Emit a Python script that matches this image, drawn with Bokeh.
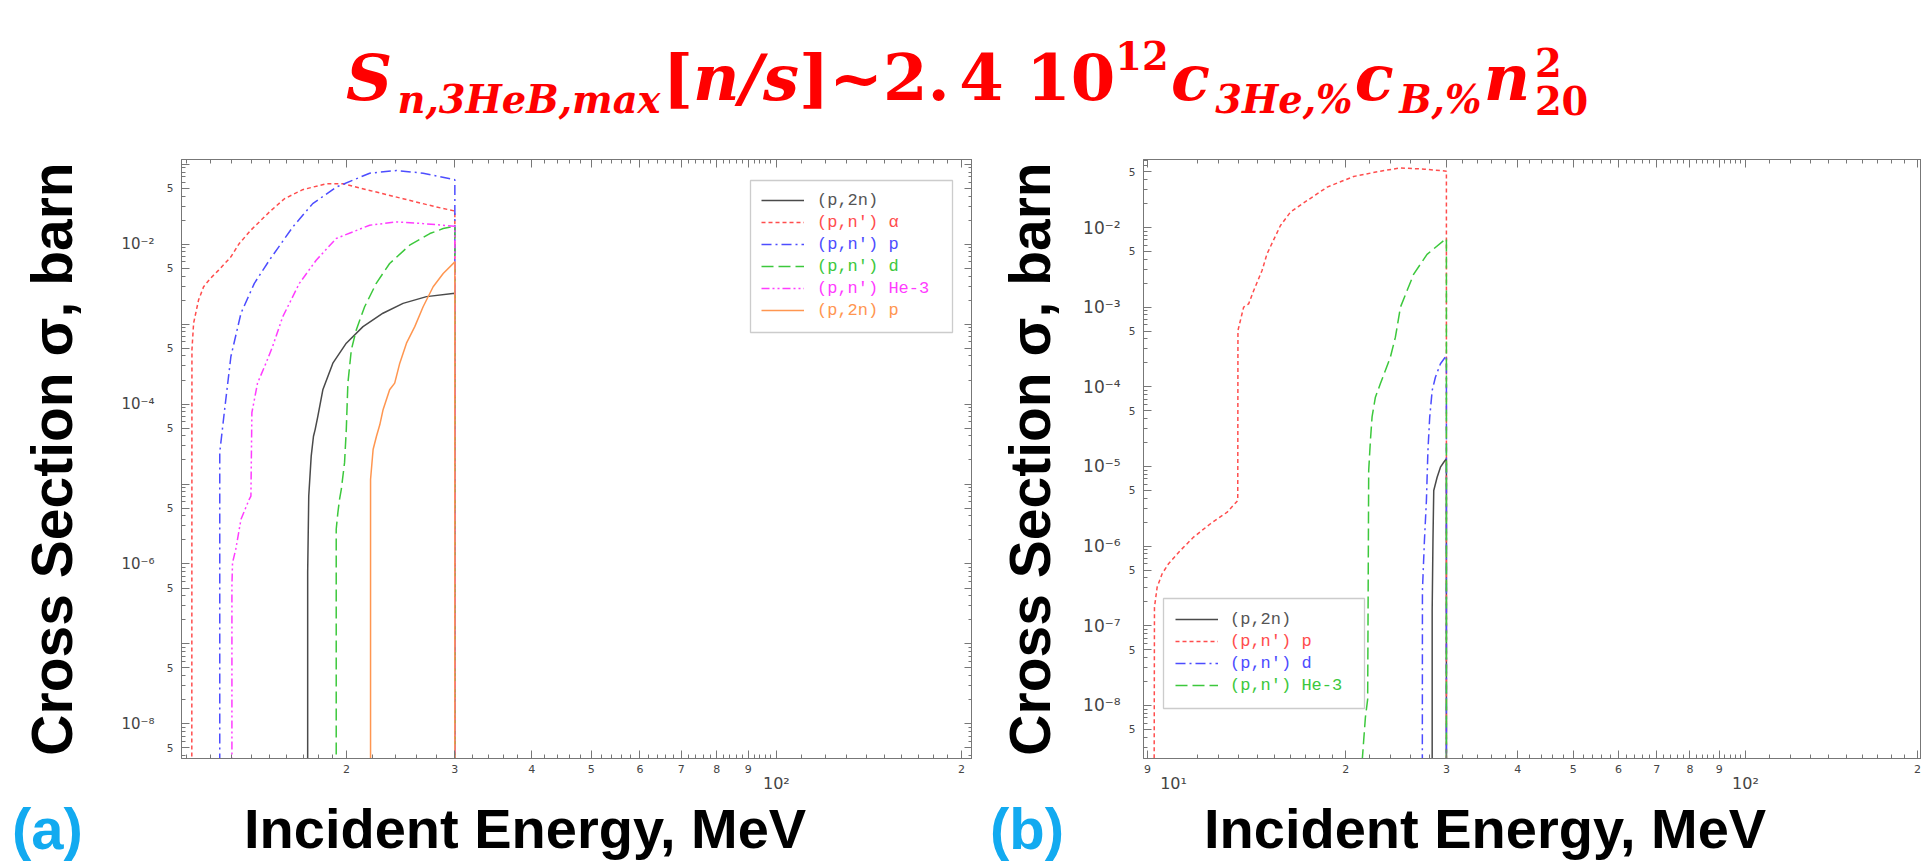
from bokeh.plotting import figure
from bokeh.models import (Range1d, LogAxis, FixedTicker, Legend, LegendItem,
                          BoxAnnotation, Div)
from bokeh.layouts import column, row
from bokeh.embed import file_html
from bokeh.resources import INLINE

ZERO = 1e-12  # cross-section below threshold / above cut-off (falls off the bottom of the axis)

# ---------------- panel (a) ----------------
a_p2n_E = [17.29, 17.29, 17.36, 17.52, 17.67, 17.78, 17.96, 18.30, 19.00, 19.98, 21.27, 22.92, 24.71, 26.98, 30.0, 30.0]
a_p2n_S = [ZERO, 7.84e-7, 7.07e-6, 2.23e-5, 3.96e-5, 4.80e-5, 7.03e-5, 1.51e-4, 3.25e-4, 5.78e-4, 9.31e-4, 1.37e-3, 1.82e-3, 2.21e-3, 2.43e-3, ZERO]

a_alpha_E = [11.20, 11.21, 11.28, 11.49, 11.71, 12.01, 12.39, 12.97, 13.38, 13.98, 14.98, 15.85, 16.97, 18.53, 19.72, 21.81, 24.71, 28.01, 30.0, 30.0]
a_alpha_S = [ZERO, 4.77e-4, 1.03e-3, 2.00e-3, 2.94e-3, 3.73e-3, 4.74e-3, 6.95e-3, 1.02e-2, 1.50e-2, 2.53e-2, 3.71e-2, 4.81e-2, 5.71e-2, 5.71e-2, 4.71e-2, 3.71e-2, 2.92e-2, 2.60e-2, ZERO]

a_p_E = [12.44, 12.44, 12.57, 12.65, 12.97, 13.47, 14.16, 14.98, 16.35, 17.62, 19.24, 21.81, 24.11, 26.64, 30.0, 30.0]
a_p_S = [ZERO, 2.5e-5, 5.0e-5, 7.74e-5, 3.94e-4, 1.37e-3, 3.24e-3, 6.31e-3, 1.64e-2, 3.22e-2, 5.18e-2, 7.74e-2, 8.37e-2, 7.74e-2, 6.41e-2, ZERO]

a_d_E = [19.24, 19.24, 19.36, 19.48, 19.61, 19.85, 19.98, 20.10, 20.36, 20.74, 21.40, 22.35, 23.50, 25.33, 27.32, 28.72, 30.0, 30.0]
a_d_S = [ZERO, 2.72e-6, 4.39e-6, 6.43e-6, 8.57e-6, 1.85e-5, 4.80e-5, 1.83e-4, 4.77e-4, 8.47e-4, 1.65e-3, 3.24e-3, 5.74e-3, 9.72e-3, 1.36e-2, 1.57e-2, 1.68e-2, ZERO]

a_he3_E = [13.02, 13.02, 13.05, 13.21, 13.47, 13.89, 13.98, 14.03, 14.33, 14.79, 15.16, 15.75, 16.76, 17.85, 19.24, 21.81, 24.11, 26.64, 30.0, 30.0]
a_he3_S = [ZERO, 5.33e-7, 1.04e-6, 1.53e-6, 3.62e-6, 6.43e-6, 7.07e-6, 7.8e-5, 1.83e-4, 3.25e-4, 5.24e-4, 1.24e-3, 3.24e-3, 6.31e-3, 1.18e-2, 1.73e-2, 1.90e-2, 1.81e-2, 1.68e-2, ZERO]

a_p2np_E = [21.88, 21.88, 22.09, 22.37, 22.65, 22.93, 23.50, 23.95, 24.41, 25.03, 25.82, 26.64, 27.66, 28.72, 30.0, 30.0]
a_p2np_S = [ZERO, 1.14e-5, 2.70e-5, 3.96e-5, 5.5e-5, 8.51e-5, 1.51e-4, 1.83e-4, 3.25e-4, 5.78e-4, 9.31e-4, 1.65e-3, 2.94e-3, 4.31e-3, 6.01e-3, ZERO]

a_labels = ["(p,2n)", "(p,n') \u03b1", "(p,n') p", "(p,n') d", "(p,n') He-3", "(p,2n) p"]

# ---------------- panel (b) ----------------
b_p2n_E = [28.33, 28.33, 28.42, 28.51, 28.90, 29.29, 29.68, 30.0, 30.0]
b_p2n_S = [ZERO, 1.56e-7, 1.18e-6, 5.00e-6, 7.34e-6, 9.80e-6, 1.13e-5, 1.25e-5, ZERO]

b_p_E = [9.23, 9.26, 9.36, 9.55, 9.80, 10.28, 10.84, 11.60, 12.41, 12.95, 12.96, 13.26, 13.53, 13.81, 14.28, 14.57, 15.38, 16.01, 17.12, 18.56, 20.65, 23.00, 24.90, 27.50, 30.0, 30.0]
b_p_S = [ZERO, 1.71e-7, 3.05e-7, 4.50e-7, 6.01e-7, 8.83e-7, 1.30e-6, 1.91e-6, 2.67e-6, 3.74e-6, 5.09e-4, 1.00e-3, 1.10e-3, 1.62e-3, 2.88e-3, 4.68e-3, 1.06e-2, 1.56e-2, 2.18e-2, 3.21e-2, 4.37e-2, 5.10e-2, 5.60e-2, 5.40e-2, 5.10e-2, ZERO]

b_d_E = [27.21, 27.24, 27.46, 27.68, 27.85, 28.05, 28.33, 28.70, 29.29, 30.0, 30.0]
b_d_S = [ZERO, 2.78e-7, 1.18e-6, 3.74e-6, 1.59e-5, 4.16e-5, 9.00e-5, 1.32e-4, 1.95e-4, 2.47e-4, ZERO]

b_he3_E = [21.37, 21.65, 21.85, 21.94, 22.09, 22.24, 22.54, 23.00, 23.94, 24.43, 24.93, 26.30, 27.75, 30.0, 30.0]
b_he3_S = [2.0e-9, 7.1e-9, 1.2e-8, 8.9e-6, 2.1e-5, 4.2e-5, 7.4e-5, 1.1e-4, 2.35e-4, 4.2e-4, 1.0e-3, 2.6e-3, 4.6e-3, 7.3e-3, ZERO]

b_labels = ["(p,2n)", "(p,n') p", "(p,n') d", "(p,n') He-3"]

# ---------------- axis tick labels ----------------
y_decades = [1e-9, 1e-8, 1e-7, 1e-6, 1e-5, 1e-4, 1e-3, 1e-2, 1e-1]
y_fives = [5e-9, 5e-8, 5e-7, 5e-6, 5e-5, 5e-4, 5e-3, 5e-2]
y_minor_mult = [2, 3, 4, 6, 7, 8, 9]
a_y_decade_text = {1e-2: "10\u207b\u00b2", 1e-4: "10\u207b\u2074", 1e-6: "10\u207b\u2076", 1e-8: "10\u207b\u2078"}
b_y_decade_text = {1e-2: "10\u207b\u00b2", 1e-3: "10\u207b\u00b3", 1e-4: "10\u207b\u2074", 1e-5: "10\u207b\u2075",
                   1e-6: "10\u207b\u2076", 1e-7: "10\u207b\u2077", 1e-8: "10\u207b\u2078"}
x_digit_ticks = [9, 20, 30, 40, 50, 60, 70, 80, 90, 100, 200]
x_digit_text = ["9", "2", "3", "4", "5", "6", "7", "8", "9", "", "2"]
x_decade_ticks = [10, 100]
x_decade_text = ["10\u00b9", "10\u00b2"]

y_title = "Cross Section \u03c3, barn"
x_title = "Incident Energy, MeV"
panel_tags = ["(a)", "(b)"]

SUB = 'font-size:0.6em;position:relative;top:0.32em;margin-left:0.14em;margin-right:0.06em'
title_html = (
    '<div style="position:relative;width:1921px;height:130px;">'
    '<div style="position:absolute;left:346px;top:30px;white-space:nowrap;color:#ff0000;'
    "font-family:'DejaVu Serif',serif;font-weight:bold;font-style:italic;font-size:64px;line-height:78px;\">"
    'S<span style="' + SUB + '">n,3HeB,max</span>'
    '<span style="font-style:normal">[</span>n/s<span style="font-style:normal">]~2.'
    '<span style="margin-left:0.15em">4</span> 10</span>'
    '<span style="font-size:0.6em;position:relative;top:-0.8em;font-style:normal;margin-right:0.06em">12</span>'
    'c<span style="' + SUB + '">3He,%</span>'
    'c<span style="' + SUB + '">B,%</span>'
    'n<span style="display:inline-block;font-size:0.6em;line-height:1.0em;position:relative;'
    'top:0.38em;font-style:normal;margin-left:0.12em">2<br>20</span>'
    '</div></div>'
)

BLUE_LBL = "#12aaf0"
BIG = "font-family:'Liberation Sans',Arial,sans-serif;font-weight:bold;line-height:58px;position:absolute;top:0px;white-space:nowrap;"
bottom_html = (
    '<div style="position:relative;width:1921px;height:64px;">'
    '<span style="' + BIG + 'left:12px;font-size:58px;color:' + BLUE_LBL + '">' + panel_tags[0] + '</span>'
    '<span style="' + BIG + 'left:244px;font-size:56px;color:black">' + x_title + '</span>'
    '<span style="' + BIG + 'left:990px;font-size:58px;color:' + BLUE_LBL + '">' + panel_tags[1] + '</span>'
    '<span style="' + BIG + 'left:1204px;font-size:56px;color:black">' + x_title + '</span>'
    '</div>'
)

AX = "#777777"
TL = "#444444"
COLORS = {"k": "#4a4a4a", "r": "#ff4d4d", "b": "#4d4dff", "g": "#3cc83c", "m": "#ff3cff", "o": "#ff9650"}
DASH = {"solid": "solid", "dash": "4 3", "dashdot": "10 4 2 4", "long": "12 5", "dashdot3": "8 3 2 3 2 3"}


def make_panel(width, height, bl, bb, xr, yr, dec_text, dec_font, dec_standoff, ylab_standoff, mirror_right):
    p = figure(width=width, height=height, x_axis_type="log", y_axis_type="log",
               x_range=Range1d(*xr), y_range=Range1d(*yr),
               output_backend="svg", toolbar_location=None,
               min_border_left=bl, min_border_right=0, min_border_top=29, min_border_bottom=bb)
    p.xgrid.visible = False
    p.ygrid.visible = False
    p.outline_line_color = AX
    p.background_fill_color = "white"
    p.border_fill_color = "white"

    y_ticks = y_decades + y_fives
    y_minor = [m * d for d in y_decades for m in y_minor_mult]
    y_ticker = FixedTicker(ticks=y_ticks, minor_ticks=y_minor)
    x_minor = ([float(v) for v in range(11, 20)] +
               [float(v) for v in range(22, 100, 2) if v % 10 != 0] +
               [float(v) for v in range(110, 200, 10)])
    x_ticker = FixedTicker(ticks=x_digit_ticks, minor_ticks=x_minor)

    def tick_style(ax):
        ax.axis_line_color = AX
        ax.major_tick_line_color = AX
        ax.minor_tick_line_color = AX
        ax.major_tick_in = 8
        ax.major_tick_out = 0
        ax.minor_tick_in = 4
        ax.minor_tick_out = 0
        ax.major_label_text_font = "DejaVu Sans"
        ax.major_label_text_color = TL

    ya = p.yaxis[0]
    ya.ticker = y_ticker
    ya.major_label_overrides = {v: ("5" if v in y_fives else "") for v in y_ticks}
    tick_style(ya)
    ya.major_label_text_font_size = "10.5px"
    ya.major_label_standoff = 8

    yb = LogAxis(ticker=FixedTicker(ticks=list(dec_text.keys()), minor_ticks=[]),
                 major_label_overrides=dict(dec_text))
    yb.axis_line_color = None
    yb.major_tick_line_color = None
    yb.minor_tick_line_color = None
    yb.major_tick_out = 0
    yb.major_tick_in = 0
    yb.major_label_text_font = "DejaVu Sans"
    yb.major_label_text_font_size = dec_font
    yb.major_label_text_color = TL
    yb.major_label_standoff = dec_standoff
    yb.axis_label = y_title
    yb.axis_label_text_font = "Liberation Sans"
    yb.axis_label_text_font_style = "bold"
    yb.axis_label_text_font_size = "57px"
    yb.axis_label_text_color = "black"
    yb.axis_label_standoff = ylab_standoff
    p.add_layout(yb, "left")

    xa = p.xaxis[0]
    xa.ticker = x_ticker
    xa.major_label_overrides = dict(zip(x_digit_ticks, x_digit_text))
    tick_style(xa)
    xa.major_label_text_font_size = "11px"
    xa.major_label_standoff = 6

    xb = LogAxis(ticker=FixedTicker(ticks=x_decade_ticks, minor_ticks=[]),
                 major_label_overrides=dict(zip(x_decade_ticks, x_decade_text)))
    xb.axis_line_color = None
    xb.major_tick_line_color = None
    xb.minor_tick_line_color = None
    xb.major_tick_out = 0
    xb.major_tick_in = 0
    xb.major_label_text_font = "DejaVu Sans"
    xb.major_label_text_font_size = "16px"
    xb.major_label_text_color = TL
    xb.major_label_standoff = -2
    p.add_layout(xb, "below")

    top = LogAxis(ticker=x_ticker, major_label_overrides={v: "" for v in x_digit_ticks})
    tick_style(top)
    top.major_label_text_font_size = "0px"
    top.major_label_standoff = 0
    p.add_layout(top, "above")
    if mirror_right:
        rt = LogAxis(ticker=y_ticker, major_label_overrides={v: "" for v in y_ticks})
        tick_style(rt)
        rt.major_label_text_font_size = "0px"
        rt.major_label_standoff = 0
        p.add_layout(rt, "right")
    return p


def add_legend(p, renderers, labels, colors, x0, y0s, standoff, box):
    for r, lbl, col, y0 in zip(renderers, labels, colors, y0s):
        leg = Legend(items=[LegendItem(label=lbl, renderers=[r])], location=(x0, y0),
                     padding=0, margin=0, spacing=0, glyph_width=43, glyph_height=20,
                     label_height=20, label_standoff=standoff,
                     label_text_font="Liberation Mono", label_text_font_size="17px",
                     label_text_color=col, border_line_color=None,
                     background_fill_alpha=0)
        p.add_layout(leg)
    l, r_, t, b = box
    p.add_layout(BoxAnnotation(left=l, right=r_, top=t, bottom=b,
                               left_units="screen", right_units="screen",
                               top_units="screen", bottom_units="screen",
                               fill_color=None, line_color="#555555", line_width=1.3))


# ---------------- panel (a) ----------------
pa = make_panel(972, 670, 181, 40, (10.78, 208.4), (3.68e-9, 1.148e-1),
                a_y_decade_text, "15px", 9, 34, True)
a_series = [(a_p2n_E, a_p2n_S, "k", "solid"), (a_alpha_E, a_alpha_S, "r", "dash"),
            (a_p_E, a_p_S, "b", "dashdot"), (a_d_E, a_d_S, "g", "long"),
            (a_he3_E, a_he3_S, "m", "dashdot3"), (a_p2np_E, a_p2np_S, "o", "solid")]
a_rend = [pa.line(x=E, y=S, line_color=COLORS[c], line_dash=DASH[d], line_width=1.5)
          for E, S, c, d in a_series]
a_txt_col = ["#555555", COLORS["r"], COLORS["b"], COLORS["g"], COLORS["m"], COLORS["o"]]
add_legend(pa, a_rend, a_labels, a_txt_col, 580, [548, 526, 504, 482, 460, 438], 13,
           (569, 771, 578, 426))

# ---------------- panel (b) ----------------
pb = make_panel(949, 670, 171, 42, (8.86, 203.2), (2.16e-9, 7.14e-2),
                b_y_decade_text, "17px", 5, 18, False)
b_series = [(b_p2n_E, b_p2n_S, "k", "solid"), (b_p_E, b_p_S, "r", "dash"),
            (b_d_E, b_d_S, "b", "dashdot"), (b_he3_E, b_he3_S, "g", "long")]
b_rend = [pb.line(x=E, y=S, line_color=COLORS[c], line_dash=DASH[d], line_width=1.5)
          for E, S, c, d in b_series]
b_txt_col = ["#555555", COLORS["r"], COLORS["b"], COLORS["g"]]
add_legend(pb, b_rend, b_labels, b_txt_col, 32, [129, 107, 85, 63], 12, (20, 221, 160, 50))

title = Div(text=title_html, width=1921, height=130, margin=(0, 0, 0, 0))
bottom = Div(text=bottom_html, width=1921, height=64, margin=(0, 0, 0, 0))
layout = column(title, row(pa, pb, spacing=0), bottom, spacing=0)

open("out.html", "w").write(file_html(layout, INLINE))
